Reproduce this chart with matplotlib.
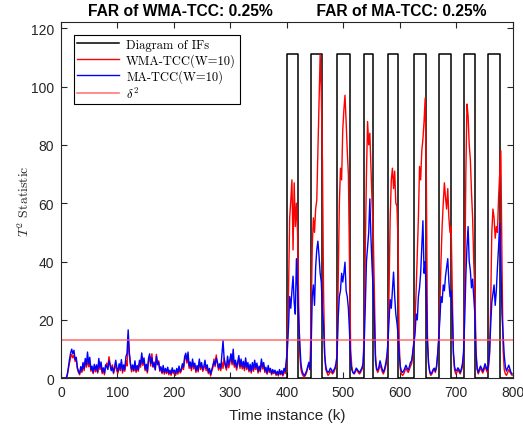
import numpy as np
import matplotlib.pyplot as plt

# Sample index (every second instant), monitoring statistics and fault windows
k = np.arange(1, 800, 2)

t2_wma = [
    0, 0, 0, 0, 0, 0.8, 3.0, 5.2, 7.0, 8.2,
    7.0, 7.9, 5.8, 6.4, 3.2, 2.0, 1.2, 3.4, 2.0, 4.6,
    2.6, 5.8, 3.8, 6.4, 4.0, 5.2, 2.4, 3.6, 1.6, 4.0,
    2.2, 3.4, 1.8, 5.6, 3.0, 4.2, 1.6, 2.8, 1.2, 3.8,
    5.2, 3.6, 7.4, 5.0, 3.0, 4.6, 1.6, 3.2, 4.8, 2.4,
    1.8, 4.2, 2.6, 5.4, 1.8, 3.6, 2.4, 6.0, 4.2, 14.8,
    8.0, 4.6, 2.2, 3.8, 2.4, 5.0, 2.0, 3.6, 2.4, 5.2,
    3.8, 7.6, 4.4, 6.2, 2.6, 3.8, 1.8, 5.6, 7.6, 4.2,
    8.4, 3.8, 5.6, 2.8, 8.2, 4.6, 6.0, 2.4, 3.4, 1.6,
    3.6, 1.4, 2.8, 1.6, 3.0, 1.2, 2.2, 1.0, 2.8, 1.6,
    2.2, 1.0, 2.6, 1.4, 3.4, 1.8, 2.4, 4.2, 3.0, 6.4,
    7.8, 5.2, 7.0, 3.4, 4.6, 2.6, 5.6, 3.2, 4.4, 2.0,
    3.6, 2.2, 5.8, 3.0, 4.6, 2.4, 3.2, 5.4, 2.6, 3.8,
    1.6, 2.8, 0.8, 2.4, 3.6, 6.6, 4.0, 8.0, 5.0, 2.8,
    4.2, 2.6, 5.6, 3.4, 7.0, 4.2, 2.8, 5.8, 3.6, 5.0,
    8.2, 4.6, 6.8, 3.8, 5.2, 2.8, 4.6, 6.8, 3.4, 5.4,
    3.2, 4.8, 2.6, 5.8, 3.0, 4.4, 2.2, 3.8, 1.8, 4.4,
    2.4, 5.0, 3.0, 4.2, 1.8, 3.4, 2.2, 5.6, 3.2, 4.4,
    2.0, 3.0, 1.4, 3.6, 2.0, 2.8, 1.2, 2.4, 1.6, 2.2,
    1.0, 1.8, 0.8, 2.4, 1.2, 2.0, 0.8, 2.6, 1.6, 4.0,
    12.0, 30.0, 55.0, 61.0, 68.0, 44.0, 67.0, 52.0, 60.0, 50.0,
    25.0, 8.0, 3.0, 1.5, 0.8, 0.5, 1.0, 2.0, 3.5, 5.0,
    3.0, 20.0, 45.0, 55.0, 50.0, 58.0, 61.0, 78.0, 95.0, 111.0,
    98.0, 75.0, 30.0, 8.0, 3.0, 2.0, 1.0, 1.5, 2.5, 2.0,
    1.5, 2.0, 3.0, 4.0, 8.0, 35.0, 60.0, 72.0, 68.0, 85.0,
    92.0, 97.0, 88.0, 78.0, 70.0, 40.0, 10.0, 4.0, 2.0, 1.5,
    2.0, 3.0, 2.5, 1.8, 1.5, 2.2, 3.0, 4.5, 16.0, 45.0,
    70.0, 88.0, 80.0, 84.0, 72.0, 60.0, 50.0, 30.0, 8.0, 3.0,
    2.0, 3.0, 4.5, 3.5, 2.2, 1.5, 2.5, 4.0, 6.0, 10.0,
    30.0, 55.0, 68.0, 72.0, 65.0, 71.0, 60.0, 59.0, 47.0, 12.0,
    3.0, 1.5, 1.0, 1.5, 2.5, 3.5, 2.6, 2.0, 3.0, 4.2,
    5.0, 8.0, 13.0, 20.0, 30.0, 42.0, 55.0, 72.6, 68.0, 78.0,
    82.0, 88.0, 96.0, 70.0, 15.0, 5.0, 2.0, 1.0, 1.5, 2.5,
    3.0, 2.0, 3.5, 8.0, 13.0, 25.0, 40.0, 52.0, 60.0, 67.0,
    62.0, 58.0, 65.0, 55.0, 50.0, 52.0, 30.0, 8.0, 3.0, 1.5,
    2.0, 3.0, 2.2, 1.5, 2.6, 4.0, 8.0, 30.0, 70.0, 94.0,
    90.0, 80.0, 75.0, 64.0, 55.0, 40.0, 30.0, 10.0, 3.0, 1.5,
    2.5, 3.5, 2.6, 1.8, 2.8, 4.0, 3.0, 2.0, 3.5, 8.0,
    25.0, 50.0, 58.0, 55.0, 48.0, 52.0, 50.0, 62.0, 70.0, 78.0,
    40.0, 10.0, 3.0, 1.5, 1.0, 2.0, 3.0, 2.2, 1.5, 1.0,
]

t2_ma = [
    0, 0, 0, 0, 0, 1.2, 3.6, 6.4, 8.6, 10.0,
    8.4, 9.6, 6.4, 7.2, 3.8, 2.4, 1.6, 4.0, 2.6, 5.4,
    3.4, 6.8, 4.6, 9.0, 5.0, 7.2, 3.0, 4.2, 2.0, 4.8,
    3.0, 4.6, 2.2, 6.8, 3.8, 5.6, 2.2, 3.6, 1.8, 4.6,
    4.0, 3.0, 6.0, 4.4, 2.6, 3.8, 2.0, 4.2, 6.2, 3.6,
    2.4, 5.0, 3.2, 6.4, 2.6, 4.6, 3.0, 7.4, 8.6, 16.6,
    9.0, 5.2, 3.0, 4.6, 2.8, 6.0, 2.6, 4.4, 3.0, 6.2,
    4.6, 8.7, 5.2, 7.0, 3.2, 4.8, 2.4, 6.8, 8.4, 5.0,
    7.0, 4.0, 5.2, 3.0, 7.6, 4.8, 5.6, 2.8, 4.0, 2.0,
    4.4, 2.0, 3.4, 2.2, 3.8, 1.8, 2.8, 1.6, 3.6, 2.2,
    2.8, 1.6, 3.4, 2.0, 4.2, 2.4, 3.0, 5.0, 3.8, 7.4,
    8.6, 6.0, 9.0, 4.2, 5.6, 3.4, 6.6, 4.0, 5.2, 2.6,
    4.4, 2.8, 6.6, 3.8, 5.4, 3.0, 4.0, 6.2, 3.4, 4.6,
    2.2, 3.4, 1.4, 3.0, 4.4, 5.8, 4.6, 7.0, 5.6, 3.6,
    5.0, 3.4, 8.0, 12.9, 6.6, 4.6, 3.6, 7.6, 4.8, 6.2,
    8.4, 5.4, 10.0, 4.6, 6.2, 3.6, 5.6, 7.8, 4.2, 6.6,
    4.0, 5.8, 3.4, 7.0, 3.8, 5.4, 2.8, 4.8, 2.4, 5.4,
    3.0, 6.2, 3.8, 5.2, 2.4, 4.2, 2.8, 6.6, 4.0, 5.4,
    2.6, 3.8, 1.8, 4.4, 2.6, 3.4, 1.6, 3.0, 2.0, 2.8,
    1.4, 2.4, 1.2, 3.0, 1.6, 2.6, 1.2, 3.4, 2.4, 6.0,
    10.0, 18.0, 28.0, 24.0, 30.0, 35.0, 26.0, 22.0, 41.0, 30.0,
    20.0, 12.0, 5.0, 2.5, 1.5, 1.0, 1.6, 2.6, 4.0, 5.5,
    3.0, 10.0, 28.0, 32.0, 25.0, 38.0, 44.0, 47.0, 42.0, 36.0,
    33.0, 24.0, 18.0, 8.0, 4.0, 2.5, 2.0, 2.5, 3.5, 3.0,
    2.0, 2.8, 3.5, 5.0, 8.0, 21.0, 28.0, 30.0, 36.0, 33.0,
    36.0, 39.8, 30.0, 28.0, 24.0, 16.0, 6.0, 3.0, 2.0, 1.6,
    2.6, 3.5, 3.0, 2.4, 2.0, 2.8, 3.6, 5.0, 12.0, 25.0,
    40.0, 45.0, 50.0, 61.5, 48.0, 38.0, 30.0, 20.0, 6.0, 3.0,
    2.8, 4.0, 6.0, 4.5, 3.0, 2.2, 3.2, 5.0, 7.5, 12.0,
    20.0, 27.0, 24.0, 30.0, 36.4, 28.0, 22.0, 19.0, 15.0, 8.0,
    4.0, 2.5, 2.0, 2.6, 3.6, 4.5, 3.5, 2.8, 4.0, 5.5,
    6.0, 9.0, 12.0, 15.0, 22.0, 20.0, 28.0, 31.0, 36.0, 45.0,
    54.0, 36.0, 40.0, 28.0, 12.0, 5.0, 2.5, 1.5, 2.0, 3.0,
    3.5, 2.5, 4.0, 8.0, 14.0, 20.0, 28.0, 26.0, 32.0, 30.0,
    35.0, 38.0, 41.0, 33.0, 28.0, 30.0, 22.0, 9.0, 4.0, 2.5,
    2.8, 3.6, 3.0, 2.0, 3.2, 5.0, 9.0, 20.0, 35.0, 45.0,
    52.0, 40.0, 37.0, 31.0, 34.0, 28.0, 22.0, 8.0, 3.5, 2.0,
    3.2, 4.2, 3.4, 2.4, 3.6, 5.0, 3.8, 2.8, 4.5, 9.0,
    18.0, 26.0, 29.0, 32.0, 25.0, 30.0, 38.0, 45.0, 53.0, 40.0,
    22.0, 15.0, 8.0, 4.0, 2.5, 3.5, 4.5, 3.2, 2.0, 1.5,
]

fault_start = [400, 443, 489, 536, 579, 625, 669, 714, 757]
fault_end = [420, 463, 511, 553, 597, 646, 690, 733, 778]
if_height = 111
threshold = 13.2

plt.rcParams['mathtext.fontset'] = 'cm'
plt.rcParams['font.family'] = ['Liberation Sans', 'DejaVu Sans']
plt.rcParams['axes.unicode_minus'] = False

fig = plt.figure(figsize=(5.23, 4.27), dpi=100)
ax = fig.add_axes([0.1166, 0.1117, 0.8637, 0.8337])

# rectangular pulses marking the intermittent faults
xs, ys = [0], [0]
for s, e in zip(fault_start, fault_end):
    xs += [s, s, e, e]
    ys += [0, if_height, if_height, 0]
xs.append(800)
ys.append(0)

ax.plot(xs, ys, color='k', lw=1.1, label='Diagram of IFs')
ax.plot(k, t2_wma, color=(1, 0, 0), lw=1.0, label='WMA-TCC(W=10)')
ax.plot(k, t2_ma, color=(0, 0, 1), lw=1.0, label='MA-TCC(W=10)')
ax.axhline(threshold, color=(1, 0.35, 0.35), alpha=0.8, lw=1.2, label=r'$\delta^2$')

ax.set_xlim(0, 800)
ax.set_ylim(0, 122)
ax.set_xticks(np.arange(0, 801, 100))
ax.set_yticks(np.arange(0, 121, 20))
ax.tick_params(direction='in', top=True, right=True, length=4, width=0.8,
               labelsize=10, colors=(0.15, 0.15, 0.15), pad=5)
for sp in ax.spines.values():
    sp.set_color((0.15, 0.15, 0.15))
    sp.set_linewidth(0.8)

ax.set_title('FAR of WMA-TCC: 0.25%          FAR of MA-TCC: 0.25%',
             fontsize=11.25, fontweight='bold', pad=5)
ax.set_xlabel('Time instance (k)', fontsize=11, color=(0.15, 0.15, 0.15),
              labelpad=6)
ax.set_ylabel(r'$T^2$ Statistic', fontsize=10, family='cmr10',
              color=(0.15, 0.15, 0.15), labelpad=-1)

leg = ax.legend(loc='upper left', bbox_to_anchor=(0.028, 0.965),
                prop={'family': 'cmr10', 'size': 9}, fancybox=False,
                edgecolor='k', framealpha=1, borderpad=0.3,
                handlelength=3.3, handletextpad=0.6, labelspacing=0.2,
                borderaxespad=0)
leg.get_frame().set_linewidth(0.8)

fig.savefig('out.png', dpi=100)
